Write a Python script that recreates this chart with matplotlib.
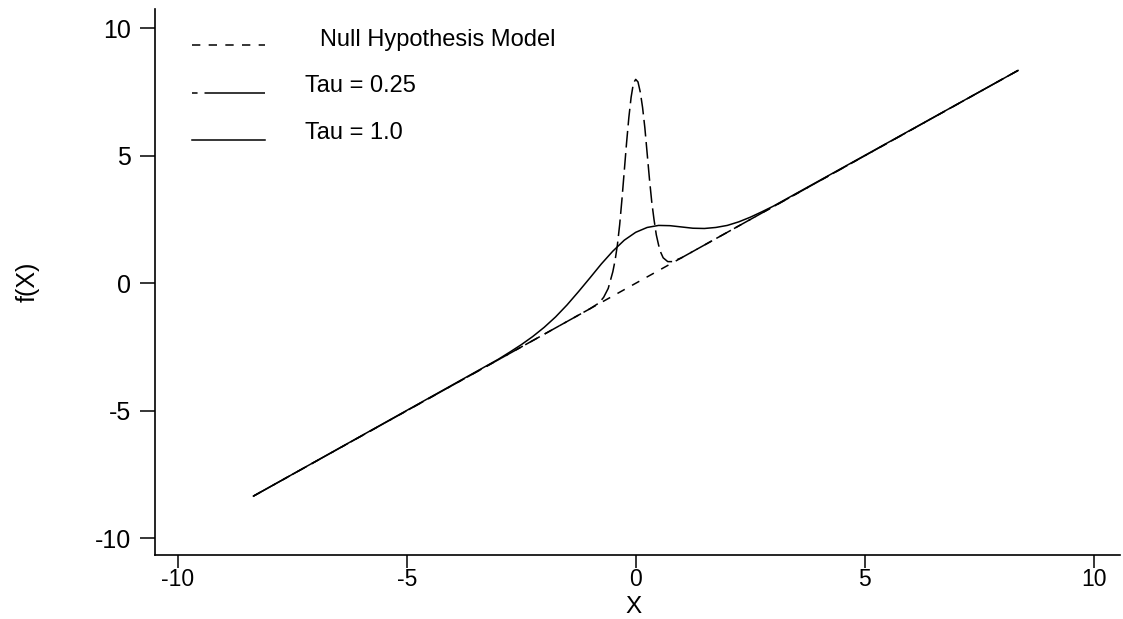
import matplotlib.pyplot as plt
from matplotlib.lines import Line2D

plt.rcParams['font.family'] = ['Liberation Sans', 'DejaVu Sans']
plt.rcParams['lines.scale_dashes'] = False

# values
null_x = [-8.35, 8.35]
null_y = [-8.35, 8.35]

tau1_x = [-8.35, -3.0, -2.75, -2.5, -2.25, -2.0, -1.75, -1.5, -1.25, -1.0, -0.75, -0.5,
          -0.25, 0.0, 0.25, 0.5, 0.75, 1.0, 1.25, 1.5, 1.75, 2.0, 2.25, 2.5, 2.75, 3.0, 8.35]
tau1_y = [-8.35, -2.98, -2.70, -2.41, -2.09, -1.73, -1.32, -0.85, -0.33, 0.21, 0.76, 1.26,
          1.69, 2.0, 2.19, 2.27, 2.26, 2.21, 2.16, 2.15, 2.19, 2.27, 2.41, 2.59, 2.80, 3.02, 8.35]

tau025_x = [-8.35, -1.0, -0.8, -0.7, -0.6, -0.5, -0.45, -0.4, -0.35, -0.3, -0.25, -0.2,
            -0.15, -0.1, -0.05, 0.0, 0.05, 0.1, 0.15, 0.2, 0.25, 0.3, 0.35, 0.4, 0.45,
            0.5, 0.55, 0.6, 0.7, 0.8, 1.0, 8.35]
tau025_y = [-8.35, -1.0, -0.77, -0.55, -0.2, 0.45, 0.9, 1.5, 2.3, 3.3, 4.4, 5.5,
            6.5, 7.3, 7.85, 8.0, 7.9, 7.5, 6.9, 6.1, 5.1, 4.1, 3.2, 2.5, 1.9,
            1.5, 1.2, 1.0, 0.85, 0.85, 1.0, 8.35]

xticks = [-10, -5, 0, 5, 10]
yticks = [-10, -5, 0, 5, 10]
legend_labels = ['Null Hypothesis Model', 'Tau = 0.25', 'Tau = 1.0']

fig = plt.figure(figsize=(11.23, 6.19), dpi=100)
ax = fig.add_axes([0.138, 0.103, 0.859, 0.882])

lw = 1.1
ax.plot(null_x, null_y, color='black', lw=lw, dashes=(6, 6))
ax.plot(tau025_x, tau025_y, color='black', lw=lw, dashes=(12, 4))
ax.plot(tau1_x, tau1_y, color='black', lw=lw)

ax.set_xlim(-10.5, 10.57)
ax.set_ylim(-10.67, 10.75)
ax.set_xticks(xticks)
ax.set_yticks(yticks)
ax.set_xticklabels([str(t) for t in xticks], fontsize=16.5)
ax.set_yticklabels([str(t) for t in yticks], fontsize=18)

for s in ['top', 'right']:
    ax.spines[s].set_visible(False)
for s in ['left', 'bottom']:
    ax.spines[s].set_linewidth(1.2)
ax.tick_params(axis='y', direction='out', length=10.5, width=1.1, pad=7)
ax.tick_params(axis='x', direction='out', length=9, width=1.1, pad=0)

ax.set_xlabel('X', fontsize=17.5, va='baseline')
ax.xaxis.set_label_coords(0.496, -0.106)
ax.set_ylabel('f(X)', fontsize=18, va='center')
ax.yaxis.set_label_coords(-0.132, 0.5)

# hand-placed legend, as in the reference
W, H = 1123, 619
styles = [dict(dashes=(6, 6)), dict(dashes=(4, 5, 45, 0)), dict()]
line_y = [45, 93, 140]
text_x = [320, 305, 305]
text_y = [40, 86, 133]
for lab, st, ly, tx, ty in zip(legend_labels, styles, line_y, text_x, text_y):
    fig.add_artist(Line2D([192 / W, 265 / W], [1 - ly / H, 1 - ly / H],
                          color='black', lw=lw, **st))
    fig.text(tx / W, 1 - ty / H, lab, fontsize=17, va='center', ha='left')

fig.savefig('out.png', dpi=100)
